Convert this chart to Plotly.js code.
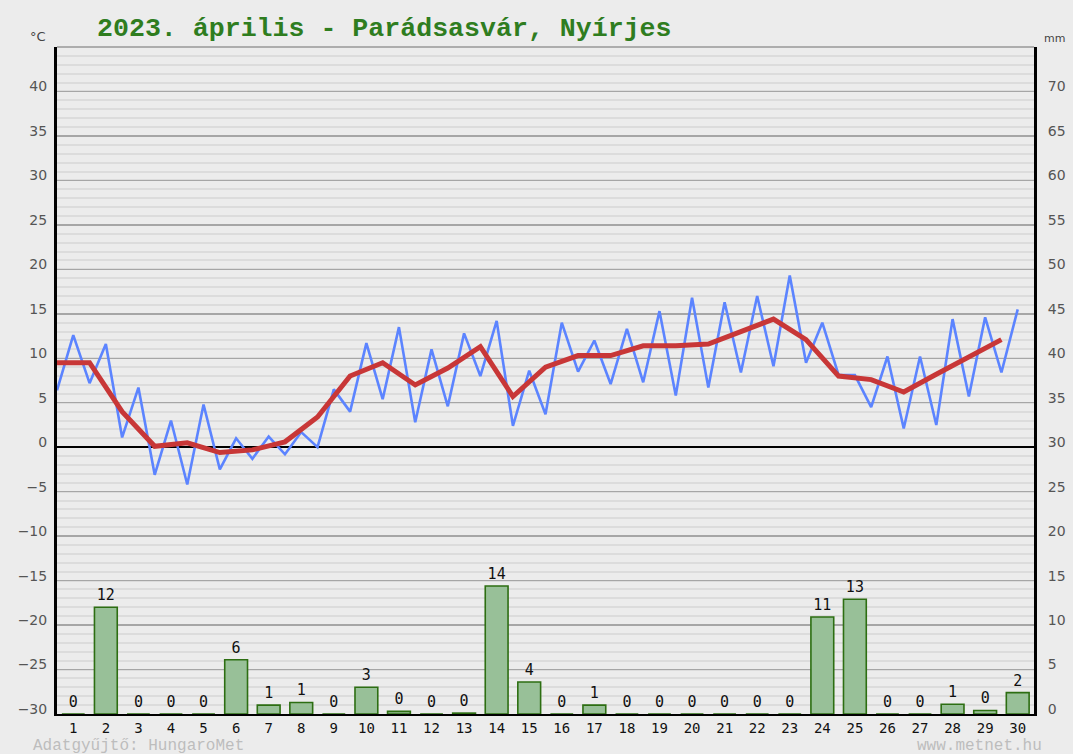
<!DOCTYPE html>
<html><head><meta charset="utf-8">
<script src="https://cdn.plot.ly/plotly-3.0.1.min.js"></script>
<style>html,body{margin:0;padding:0;background:#ececec;} #chart{width:1073px;height:754px;}</style>
</head><body><div id="chart"></div>
<script>
const titleText = '2023. április - Parádsasvár, Nyírjes';
const days = [1,2,3,4,5,6,7,8,9,10,11,12,13,14,15,16,17,18,19,20,21,22,23,24,25,26,27,28,29,30];
const precipMm = [0,12,0,0,0,6.1,1,1.3,0,3,0.3,0,0.1,14.4,3.6,0,1,0,0,0,0,0,0,10.9,12.9,0,0,1.1,0.4,2.4];
// temperature every 12 hours (alternating night / day readings)
const tempHalfDaily = [6.4,12.6,7.2,11.6,1.1,6.7,-3.1,3.0,-4.2,4.8,-2.5,1.0,-1.3,1.2,-0.8,1.7,0.0,6.5,4.0,11.7,
  5.4,13.5,2.8,11.0,4.6,12.8,8.0,14.2,2.4,8.6,3.7,14.0,8.5,12.0,7.1,13.3,7.3,15.3,5.8,16.8,
  6.7,16.3,8.4,17.0,9.1,19.3,9.5,14.0,8.1,8.1,4.5,10.2,2.1,10.2,2.5,14.4,5.7,14.6,8.4,15.5];
// daily mean temperature
const tempDailyMean = [9.5,9.5,4.0,0.1,0.5,-0.6,-0.3,0.6,3.4,8.0,9.5,7.0,8.9,11.3,5.7,9.0,10.3,10.3,11.4,11.4,
  11.6,13.0,14.4,12.1,8.0,7.6,6.2,8.2,10.1,12.1];
const tempTicks = [-30,-25,-20,-15,-10,-5,0,5,10,15,20,25,30,35,40];
const mmTicks = [0,5,10,15,20,25,30,35,40,45,50,55,60,65,70];

const traces = [
  {
    type: 'bar', x: days.map(d => d - 0.5), y: precipMm, yaxis: 'y2', width: 0.7,
    marker: {color: '#98c098', line: {color: '#2d6e12', width: 1.6}},
    text: precipMm.map(v => String(Math.round(v))), textposition: 'outside', cliponaxis: false,
    textfont: {family: 'DejaVu Sans Mono', size: 15, color: '#111'},
    hoverinfo: 'skip'
  },
  {
    type: 'scatter', mode: 'lines', x: tempHalfDaily.map((v, i) => i / 2), y: tempHalfDaily,
    line: {color: '#5c84ff', width: 2.6}, hoverinfo: 'skip'
  },
  {
    type: 'scatter', mode: 'lines', x: tempDailyMean.map((v, i) => i), y: tempDailyMean,
    line: {color: '#c83737', width: 5}, hoverinfo: 'skip'
  }
];

const layout = {
  width: 1073, height: 754,
  margin: {l: 57, r: 39, t: 47, b: 40, pad: 0},
  paper_bgcolor: '#ececec', plot_bgcolor: '#ececec',
  showlegend: false, bargap: 0,
  title: {
    text: titleText, xref: 'container', yref: 'container', x: 97/1073, xanchor: 'left',
    y: 1 - 27/754, yanchor: 'middle',
    font: {family: 'Liberation Mono', size: 26.6, color: '#2f7d1f', weight: 'bold'}
  },
  xaxis: {
    range: [0, 30], tickvals: days.map(d => d - 0.5), ticktext: days.map(String),
    ticks: '', showgrid: false, zeroline: false, showline: true, linecolor: '#000', linewidth: 2,
    tickfont: {family: 'DejaVu Sans Mono', size: 14, color: '#111'}, fixedrange: true
  },
  yaxis: {
    range: [-30, 45], tickvals: tempTicks, ticks: '', showline: true, linecolor: '#000', linewidth: 3,
    showgrid: true, gridcolor: '#a6a6a6', gridwidth: 1.5,
    minor: {dtick: 1, showgrid: true, gridcolor: '#dcdcdc', gridwidth: 2},
    zeroline: true, zerolinecolor: '#000', zerolinewidth: 1.6,
    tickfont: {family: 'DejaVu Sans', size: 14, color: '#555'}, ticklabelshift: -5, ticklabelstandoff: 4,
    fixedrange: true
  },
  yaxis2: {
    range: [0, 75], tickvals: mmTicks, overlaying: 'y', side: 'right', ticks: '',
    showline: true, linecolor: '#000', linewidth: 3, showgrid: false, zeroline: false,
    tickfont: {family: 'DejaVu Sans', size: 14, color: '#555'}, ticklabelshift: -5, ticklabelstandoff: 8,
    fixedrange: true
  },
  shapes: [
    {type: 'line', xref: 'paper', yref: 'paper', x0: 0, x1: 1, y0: 1, y1: 1, line: {color: '#999', width: 1.5}}
  ],
  annotations: [
    {text: '°C', xref: 'paper', yref: 'paper', x: -0.009, y: 1.002, xanchor: 'right', yanchor: 'bottom', showarrow: false,
     font: {family: 'DejaVu Sans', size: 13, color: '#444'}},
    {text: 'mm', xref: 'paper', yref: 'paper', x: 1.008, y: 1.0, xanchor: 'left', yanchor: 'bottom', showarrow: false,
     font: {family: 'DejaVu Sans', size: 11, color: '#444'}},
    {text: 'Adatgyűjtő: HungaroMet', xref: 'paper', yref: 'paper', x: -0.027, y: -0.048, xanchor: 'left', yanchor: 'middle',
     showarrow: false, font: {family: 'Liberation Mono', size: 16, color: '#bdbdbd'}},
    {text: 'www.metnet.hu', xref: 'paper', yref: 'paper', x: 1.01, y: -0.048, xanchor: 'right', yanchor: 'middle',
     showarrow: false, font: {family: 'Liberation Mono', size: 16, color: '#bdbdbd'}}
  ]
};

Plotly.newPlot('chart', traces, layout, {displayModeBar: false, staticPlot: true});
</script>
</body></html>
